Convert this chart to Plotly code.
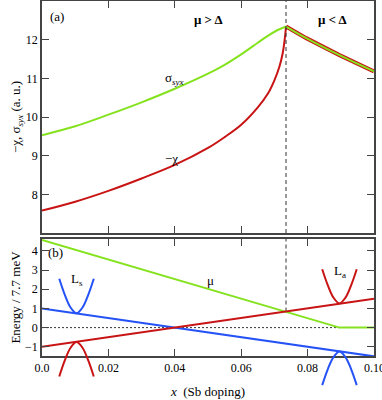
import plotly.graph_objects as go

# ---- panel (a): susceptibility / spin Hall conductivity vs Sb doping
sigma_left_x = [0.0, 0.01, 0.02, 0.03, 0.04, 0.05, 0.055, 0.06, 0.065, 0.068, 0.071, 0.0735]
sigma_left_y = [9.53, 9.76, 10.06, 10.38, 10.73, 11.12, 11.35, 11.62, 11.92, 12.10, 12.25, 12.34]
chi_left_x = [0.0, 0.01, 0.02, 0.03, 0.04, 0.05, 0.055, 0.06, 0.065, 0.068, 0.07, 0.0715, 0.0725, 0.0731, 0.0735]
chi_left_y = [7.58, 7.81, 8.09, 8.41, 8.76, 9.20, 9.48, 9.80, 10.25, 10.60, 10.95, 11.30, 11.65, 12.0, 12.34]
# beyond the crossing both curves coincide
right_x = [0.0735, 0.0796, 0.0896, 0.1]
right_y = [12.34, 12.04, 11.60, 11.18]

delta_x = 0.0735          # mu = Delta
delta_energy = 0.84       # where mu meets L_a

# ---- panel (b): band energies
mu_x = [0.0, 0.0896, 0.1]
mu_y = [4.57, 0.0, 0.0]
ls_x = [0.0, 0.1]
ls_y = [1.0, -1.5]
la_x = [0.0, 0.1]
la_y = [-1.0, 1.5]
zero_x = [0.0, 0.0896]
zero_y = [0.0, 0.0]

# little dispersion sketches
ls_left_x = [0.0052, 0.0069, 0.0086, 0.0104, 0.0122, 0.0139, 0.0156]
ls_left_y = [2.55, 1.70, 1.05, 0.75, 1.05, 1.70, 2.55]
la_left_x = ls_left_x
la_left_y = [-2.55, -1.70, -1.05, -0.75, -1.05, -1.70, -2.55]
la_right_x = [0.0844, 0.0861, 0.0878, 0.0896, 0.0914, 0.0931, 0.0948]
la_right_y = [3.04, 2.20, 1.56, 1.26, 1.56, 2.20, 3.04]
ls_right_x = la_right_x
ls_right_y = [-3.0, -2.16, -1.54, -1.25, -1.54, -2.16, -3.0]

x_ticks = [0.0, 0.02, 0.04, 0.06, 0.08, 0.10]
x_ticktext = ["0.0", "0.02", "0.04", "0.06", "0.08", ""]
last_tick_label = "0.10"   # drawn separately, it sits on the page edge

GREEN = "#84e21e"
RED = "#c81414"
BLUE = "#2452f5"
FONT = "Liberation Serif"

# layout geometry (pixels)
W, H = 382, 400
ML, MR, MT, MB = 42, 8, 1, 5
ph = H - MT - MB
def frac(py):
    return (H - MB - py) / ph
top_dom = [frac(233), 1.0]
bot_dom = [frac(356), frac(239)]
x_range = [-1e-6, 0.100001]
y2_range = [-1.48, 4.62]
span = (y2_range[1] - y2_range[0]) / (bot_dom[1] - bot_dom[0])
y3_range = [y2_range[1] - span * bot_dom[1], y2_range[1]]

fig = go.Figure()

fig.add_trace(go.Scatter(x=right_x, y=right_y, mode='lines', line=dict(color=RED, width=4),
                         xaxis='x', yaxis='y'))
fig.add_trace(go.Scatter(x=chi_left_x, y=chi_left_y, mode='lines', line=dict(color=RED, width=2, shape='spline'),
                         xaxis='x', yaxis='y'))
fig.add_trace(go.Scatter(x=sigma_left_x, y=sigma_left_y, mode='lines', line=dict(color=GREEN, width=2, shape='spline'),
                         xaxis='x', yaxis='y'))
fig.add_trace(go.Scatter(x=right_x, y=right_y, mode='lines', line=dict(color=GREEN, width=2, shape='spline'),
                         xaxis='x', yaxis='y'))
fig.add_trace(go.Scatter(x=[delta_x, delta_x], y=[7, 13], mode='lines',
                         line=dict(color='#333', width=1, dash='4px,3px'), xaxis='x', yaxis='y'))

fig.add_trace(go.Scatter(x=zero_x, y=zero_y, mode='lines', line=dict(color='#333', width=1, dash='2px,2px'),
                         xaxis='x2', yaxis='y2'))
fig.add_trace(go.Scatter(x=[delta_x, delta_x], y=[delta_energy, 5], mode='lines',
                         line=dict(color='#333', width=1, dash='4px,3px'), xaxis='x2', yaxis='y2'))
fig.add_trace(go.Scatter(x=mu_x, y=mu_y, mode='lines', line=dict(color=GREEN, width=2), xaxis='x2', yaxis='y2'))
fig.add_trace(go.Scatter(x=ls_x, y=ls_y, mode='lines', line=dict(color=BLUE, width=2), xaxis='x2', yaxis='y2'))
fig.add_trace(go.Scatter(x=la_x, y=la_y, mode='lines', line=dict(color=RED, width=2), xaxis='x2', yaxis='y2'))

for xs, ys, c in [(ls_left_x, ls_left_y, BLUE), (la_left_x, la_left_y, RED),
                  (la_right_x, la_right_y, RED), (ls_right_x, ls_right_y, BLUE)]:
    fig.add_trace(go.Scatter(x=xs, y=ys, mode='lines', line=dict(color=c, width=2, shape='spline'),
                             xaxis='x3', yaxis='y3'))

tick_font = dict(family=FONT, size=12, color='black')
frame = dict(showline=True, linecolor='#444', linewidth=1.5, mirror='ticks', ticks='inside',
             ticklen=7, tickcolor='#444', tickwidth=1, showgrid=False, zeroline=False,
             tickfont=tick_font, automargin=False)

fig.update_layout(
    width=W, height=H, margin=dict(l=ML, r=MR, t=MT, b=MB, autoexpand=False),
    showlegend=False, plot_bgcolor='rgba(0,0,0,0)', paper_bgcolor='white',
    font=dict(family=FONT, size=13, color='black'),
    xaxis=dict(frame, domain=[0, 1], range=x_range, anchor='y', tickvals=x_ticks, showticklabels=False),
    yaxis=dict(frame, domain=top_dom, range=[7, 13], anchor='x', tickvals=[8, 9, 10, 11, 12],
               title=dict(text="−χ, σ<sub><i>syx</i></sub> (a. u.)", standoff=2, font=dict(size=13))),
    xaxis2=dict(frame, domain=[0, 1], range=x_range, anchor='y2', tickvals=x_ticks, ticktext=x_ticktext,
                title=dict(text="<i>x</i>  (Sb doping)", standoff=13, font=dict(size=13))),
    yaxis2=dict(frame, domain=bot_dom, range=y2_range, anchor='x2', tickvals=[-1, 0, 1, 2, 3, 4],
                title=dict(text="Energy / 7.7 meV", standoff=2, font=dict(size=13))),
    xaxis3=dict(domain=[0, 1], range=x_range, anchor='y3', visible=False, automargin=False),
    yaxis3=dict(domain=[0, bot_dom[1]], range=y3_range, anchor='x3', visible=False, automargin=False),
)

labels_a = [
    (0.0045, 12.6, "(a)"),
    (0.0398, 11.0, "σ<sub><i>syx</i></sub>"),
    (0.039, 8.93, "−χ"),
    (0.050, 12.52, "<b>μ > Δ</b>"),
    (0.0875, 12.52, "<b>μ < Δ</b>"),
]
for x, y, t in labels_a:
    fig.add_annotation(x=x, y=y, xref='x', yref='y', text=t, showarrow=False, font=dict(size=13))

labels_b = [
    (0.0042, 3.89, "(b)"),
    (0.0507, 2.48, "μ"),
    (0.0106, 2.5, "L<sub>s</sub>"),
    (0.011, -2.56, "L<sub>a</sub>"),
    (0.0897, 2.9, "L<sub>a</sub>"),
    (0.0897, -3.1, "L<sub>s</sub>"),
]
for x, y, t in labels_b:
    fig.add_annotation(x=x, y=y, xref='x2', yref='y2', text=t, showarrow=False, font=dict(size=13))

fig.add_annotation(x=x_ticks[-1], y=y2_range[0], xref='x2', yref='y2', text=last_tick_label,
                   showarrow=False, yanchor='top', yshift=-3, font=tick_font)

fig.write_html("out.html", config={'displayModeBar': False},
               post_script="document.body.style.margin='0';")
